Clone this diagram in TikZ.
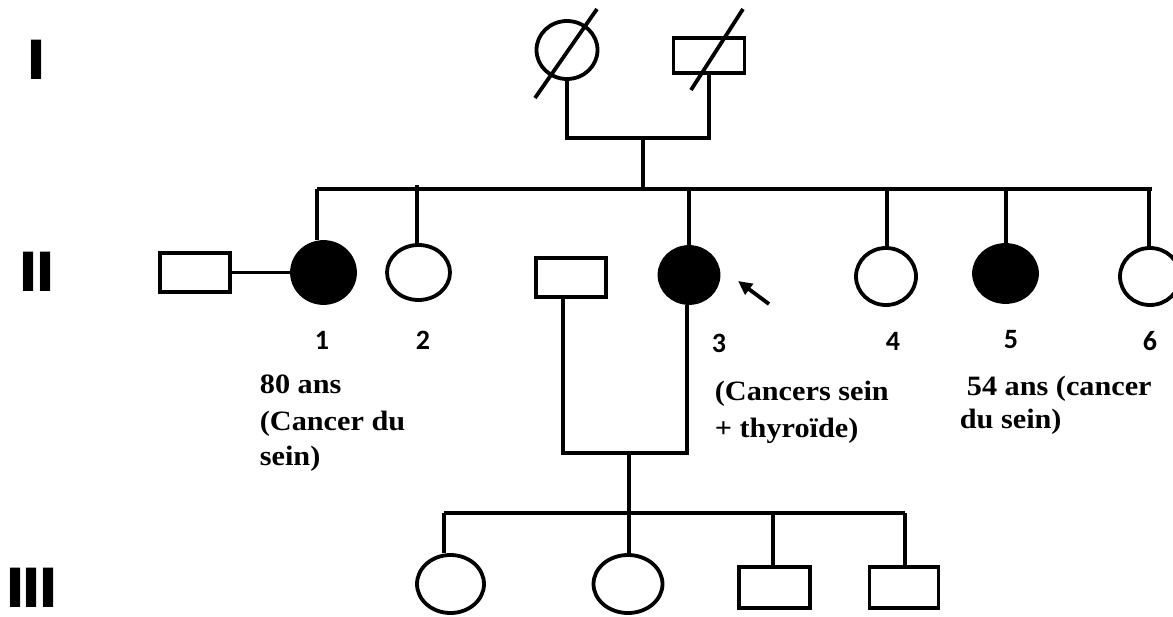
\documentclass[tikz,border=0pt]{standalone}
\usepackage{fontspec}
\setmainfont{Liberation Serif}
\newfontfamily\lblfont{Liberation Serif}[FakeStretch=1.08]
\newfontfamily\numfont{Carlito}
\newfontfamily\genfont{DejaVu Sans}
\usetikzlibrary{shapes.geometric,arrows.meta,calc}
\begin{document}
\begin{tikzpicture}[x=1pt,y=-1pt,
  line width=3.8pt,
  fem/.style={ellipse,draw,fill=white,inner sep=0pt},
  femaff/.style={ellipse,draw,fill=black,inner sep=0pt},
  male/.style={rectangle,draw,fill=white,inner sep=0pt},
  lbl/.style={font=\lblfont\fontsize{28}{34}\selectfont\bfseries,anchor=base west,inner sep=0pt},
  num/.style={font=\numfont\fontsize{28}{34}\selectfont\bfseries,anchor=base,inner sep=0pt},
  gen/.style={font=\genfont\fontsize{54}{60}\selectfont\bfseries,inner sep=0pt},
  link/.style={line width=3.8pt},
  pointer/.style={line width=3.8pt,-{Triangle[length=14pt,width=13pt]}}
]
\useasboundingbox (0,0) rectangle (1173,616);

% generation labels
\node[gen] (g1) at (36.5,60) {I};
\node[gen] (g2) at (37,272) {I\kern-4pt I};
\node[gen] (g3) at (32,588) {I\kern-4pt I\kern-4pt I};

% generation I
\node[fem, minimum width=61pt, minimum height=58pt] (i1) at (567,50) {};
\node[male, minimum width=71pt, minimum height=35pt] (i2) at (709,55.5) {};
\draw[link] ($(i1)+(-32,48)$) -- ($(i1)+(30,-41)$);
\draw[link] ($(i2)+(-18,34.5)$) -- ($(i2)+(34,-46.5)$);
\coordinate (m1) at (643,138);
\coordinate (s2) at (643,189);
\draw[link] (i1.south) |- (m1) -| (i2.south);
\draw[link] (m1) -- (s2);
\coordinate (sL) at (317,189);
\coordinate (sR) at (1152,189);
\draw[link] (sL) -- (sR);

% generation II
\node[male, minimum width=70pt, minimum height=39pt] (sp1) at (195,272.5) {};
\node[femaff, minimum width=63pt, minimum height=61pt] (ii1) at (323.5,272.5) {};
\draw[link] (sp1.east) -- (ii1.west);
\draw[link] (sL) -- (sL |- ii1.north);

\node[fem, minimum width=63pt, minimum height=55pt] (ii2) at (418.5,272.5) {};
\coordinate (t2) at (417,185);
\draw[link] (t2) -- (t2 |- ii2.north);

\node[male, minimum width=70pt, minimum height=39pt] (sp3) at (571,277.5) {};
\node[femaff, minimum width=59pt, minimum height=56pt] (ii3) at (689,275) {};
\coordinate (t3) at (689,189);
\draw[link] (t3) -- (ii3.north);

\node[fem, minimum width=60pt, minimum height=57pt] (ii4) at (886,276.5) {};
\coordinate (t4) at (887,189);
\draw[link] (t4) -- (t4 |- ii4.north);

\node[femaff, minimum width=63pt, minimum height=57pt] (ii5) at (1005.5,273.5) {};
\coordinate (t5) at (1006,189);
\draw[link] (t5) -- (t5 |- ii5.north);

\node[fem, minimum width=60pt, minimum height=57pt] (ii6) at (1150,276.5) {};
\coordinate (t6) at (1149,189);
\draw[link] (t6) -- (t6 |- ii6.north);

% union of II-3
\coordinate (u1) at (563,453);
\coordinate (u2) at (687,453);
\coordinate (uc) at (629,453);
\coordinate (c3) at (629,513);
\draw[link] (u1 |- sp3.south) -- (u1) -- (u2) -- (u2 |- ii3.south);
\draw[link] (uc) -- (c3);

% proband arrow
\coordinate (as) at (769,304);
\coordinate (at) at (738,281);
\draw[pointer] (as) -- (at);

% generation III
\coordinate (tL) at (443.6,513);
\coordinate (tR) at (905,513);
\draw[link] (tL) -- (tR);
\node[fem, minimum width=67pt, minimum height=58pt] (iii1) at (450.5,584) {};
\draw[link] (tL) -- (tL |- iii1.north);
\node[fem, minimum width=69pt, minimum height=58pt] (iii2) at (628,584) {};
\draw[link] (c3) -- (c3 |- iii2.north);
\node[male, minimum width=71pt, minimum height=41pt] (iii3) at (774.5,587.5) {};
\coordinate (t7) at (773,513);
\draw[link] (t7) -- (t7 |- iii3.north);
\node[male, minimum width=69pt, minimum height=41pt] (iii4) at (904,587.5) {};
\draw[link] (tR) -- (tR |- iii4.north);

% numbers
\node[num] (n1) at (322,349) {1};
\node[num] (n2) at (423,349) {2};
\node[num] (n3) at (719,352) {3};
\node[num] (n4) at (893,350) {4};
\node[num] (n5) at (1011,348) {5};
\node[num] (n6) at (1150,350) {6};

% annotations
\node[lbl] (a1) at (258,393) {80 ans};
\node[lbl] (a2) at (258,430) {(Cancer du};
\node[lbl] (a3) at (258,465) {sein)};
\node[lbl] (b1) at (713,400) {(Cancers sein};
\node[lbl] (b2) at (713,437) {+ thyroïde)};
\node[lbl] (c1) at (965,395) {54 ans (cancer};
\node[lbl] (c2) at (958,428) {du sein)};
\end{tikzpicture}
\end{document}
